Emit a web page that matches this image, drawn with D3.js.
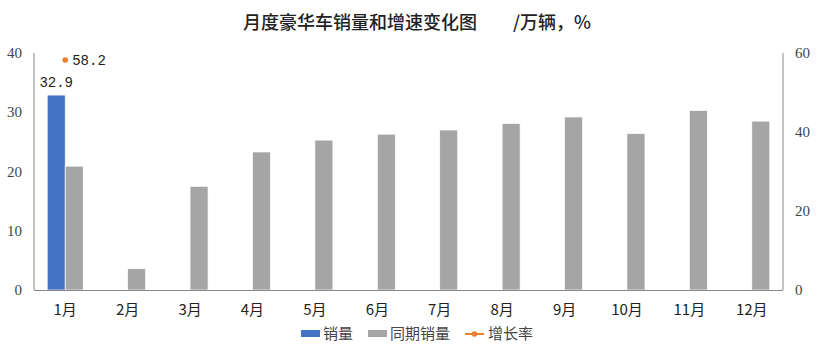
<!DOCTYPE html>
<html><head><meta charset="utf-8">
<script src="https://cdn.jsdelivr.net/npm/d3@7"></script>
<style>body{margin:0;background:#fff;} svg{display:block;}</style>
</head><body>
<svg id="c" width="820" height="359"></svg>
<script>
const categories = ["1月","2月","3月","4月","5月","6月","7月","8月","9月","10月","11月","12月"];
const sales = [32.9, null, null, null, null, null, null, null, null, null, null, null];
const salesPrev = [20.9, 3.6, 17.5, 23.3, 25.3, 26.3, 27.0, 28.1, 29.2, 26.4, 30.3, 28.5];
const growth = [58.2, null, null, null, null, null, null, null, null, null, null, null];
const leftTicks = [0, 10, 20, 30, 40];
const rightTicks = [0, 20, 40, 60];
const title = "月度豪华车销量和增速变化图　　/万辆，%";
const legendNames = ["销量", "同期销量", "增长率"];
const colors = {sales: "#4472C4", prev: "#A5A5A5", growth: "#ED7D31"};

const svg = d3.select("#c");
const m = {l: 34, r: 783, t: 53, b: 290};
const x = d3.scaleBand().domain(categories).range([m.l, m.r]);
const yL = d3.scaleLinear().domain([0, 40]).range([m.b, m.t]);
const yR = d3.scaleLinear().domain([0, 60]).range([m.b, m.t]);
const bw = 18;
const numFont = "'Liberation Serif', 'DejaVu Serif', serif";
const monoFont = "'Liberation Mono', 'DejaVu Sans Mono', monospace";
const cjkFont = "'Noto Sans CJK SC', sans-serif";

svg.append("text").attr("x", 417).attr("y", 29).attr("text-anchor", "middle")
  .attr("font-family", cjkFont).attr("font-size", 18).attr("font-weight", 500).attr("fill", "#222").text(title);

// axes lines
const axisColor = "#888";
svg.append("line").attr("x1", m.l).attr("x2", m.l).attr("y1", m.t).attr("y2", m.b).attr("stroke", axisColor);
svg.append("line").attr("x1", m.r).attr("x2", m.r).attr("y1", m.t).attr("y2", m.b).attr("stroke", axisColor);

// axis labels
svg.append("g").selectAll("text").data(leftTicks).join("text")
  .attr("x", 22).attr("y", d => yL(d) + 5).attr("text-anchor", "end")
  .attr("font-family", numFont).attr("font-size", 15).attr("fill", "#444").text(d => d);
svg.append("g").selectAll("text").data(rightTicks).join("text")
  .attr("x", 795).attr("y", d => yR(d) + 5).attr("text-anchor", "start")
  .attr("font-family", numFont).attr("font-size", 15).attr("fill", "#444").text(d => d);

// bars
const cx = c => x(c) + x.bandwidth() / 2;
svg.append("g").selectAll("rect").data(categories.map((c, i) => ({c, v: sales[i]})).filter(d => d.v != null)).join("rect")
  .attr("x", d => cx(d.c) - bw).attr("width", bw)
  .attr("y", d => yL(d.v)).attr("height", d => m.b - yL(d.v)).attr("fill", colors.sales)
  .attr("stroke", "#fff").attr("stroke-width", 0.7);
svg.append("g").selectAll("rect").data(categories.map((c, i) => ({c, v: salesPrev[i]})).filter(d => d.v != null)).join("rect")
  .attr("x", d => cx(d.c)).attr("width", bw)
  .attr("y", d => yL(d.v)).attr("height", d => m.b - yL(d.v)).attr("fill", colors.prev)
  .attr("stroke", "#fff").attr("stroke-width", 0.7);

// bottom axis line
svg.append("line").attr("x1", m.l).attr("x2", m.r).attr("y1", m.b + 0.5).attr("y2", m.b + 0.5).attr("stroke", axisColor);

// growth line + points
const gData = categories.map((c, i) => ({c, v: growth[i]}));
svg.append("path").datum(gData).attr("fill", "none").attr("stroke", colors.growth).attr("stroke-width", 2)
  .attr("d", d3.line().defined(d => d.v != null).x(d => cx(d.c)).y(d => yR(d.v)));
svg.append("g").selectAll("circle").data(gData.filter(d => d.v != null)).join("circle")
  .attr("cx", d => cx(d.c)).attr("cy", d => yR(d.v)).attr("r", 2.8).attr("fill", colors.growth);

// data labels
svg.append("g").selectAll("text").data(gData.filter(d => d.v != null)).join("text")
  .attr("x", d => cx(d.c) + 7).attr("y", d => yR(d.v) + 5)
  .attr("font-family", monoFont).attr("font-size", 14).attr("fill", "#222").text(d => d.v.toFixed(1));
svg.append("g").selectAll("text").data(categories.map((c, i) => ({c, v: sales[i]})).filter(d => d.v != null)).join("text")
  .attr("x", d => cx(d.c) - bw / 2).attr("y", d => yL(d.v) - 8).attr("text-anchor", "middle")
  .attr("font-family", monoFont).attr("font-size", 14).attr("fill", "#222").text(d => d.v.toFixed(1));

// x labels
svg.append("g").selectAll("text").data(categories).join("text")
  .attr("x", d => cx(d)).attr("y", 315).attr("text-anchor", "middle")
  .attr("font-family", cjkFont).attr("font-size", 15).attr("fill", "#222").text(d => d);

// legend
const lg = svg.append("g");
const ly = 334;
const lf = 15;
lg.append("rect").attr("x", 301).attr("y", ly - 4).attr("width", 19).attr("height", 7).attr("fill", colors.sales);
lg.append("text").attr("x", 323).attr("y", ly + 5).attr("font-family", cjkFont).attr("font-size", lf).attr("fill", "#444").text(legendNames[0]);
lg.append("rect").attr("x", 368).attr("y", ly - 4).attr("width", 19).attr("height", 7).attr("fill", colors.prev);
lg.append("text").attr("x", 390).attr("y", ly + 5).attr("font-family", cjkFont).attr("font-size", lf).attr("fill", "#444").text(legendNames[1]);
lg.append("line").attr("x1", 465).attr("x2", 484).attr("y1", ly).attr("y2", ly).attr("stroke", colors.growth).attr("stroke-width", 2);
lg.append("circle").attr("cx", 474.5).attr("cy", ly).attr("r", 2.8).attr("fill", colors.growth);
lg.append("text").attr("x", 488).attr("y", ly + 5).attr("font-family", cjkFont).attr("font-size", lf).attr("fill", "#444").text(legendNames[2]);
</script>
</body></html>
